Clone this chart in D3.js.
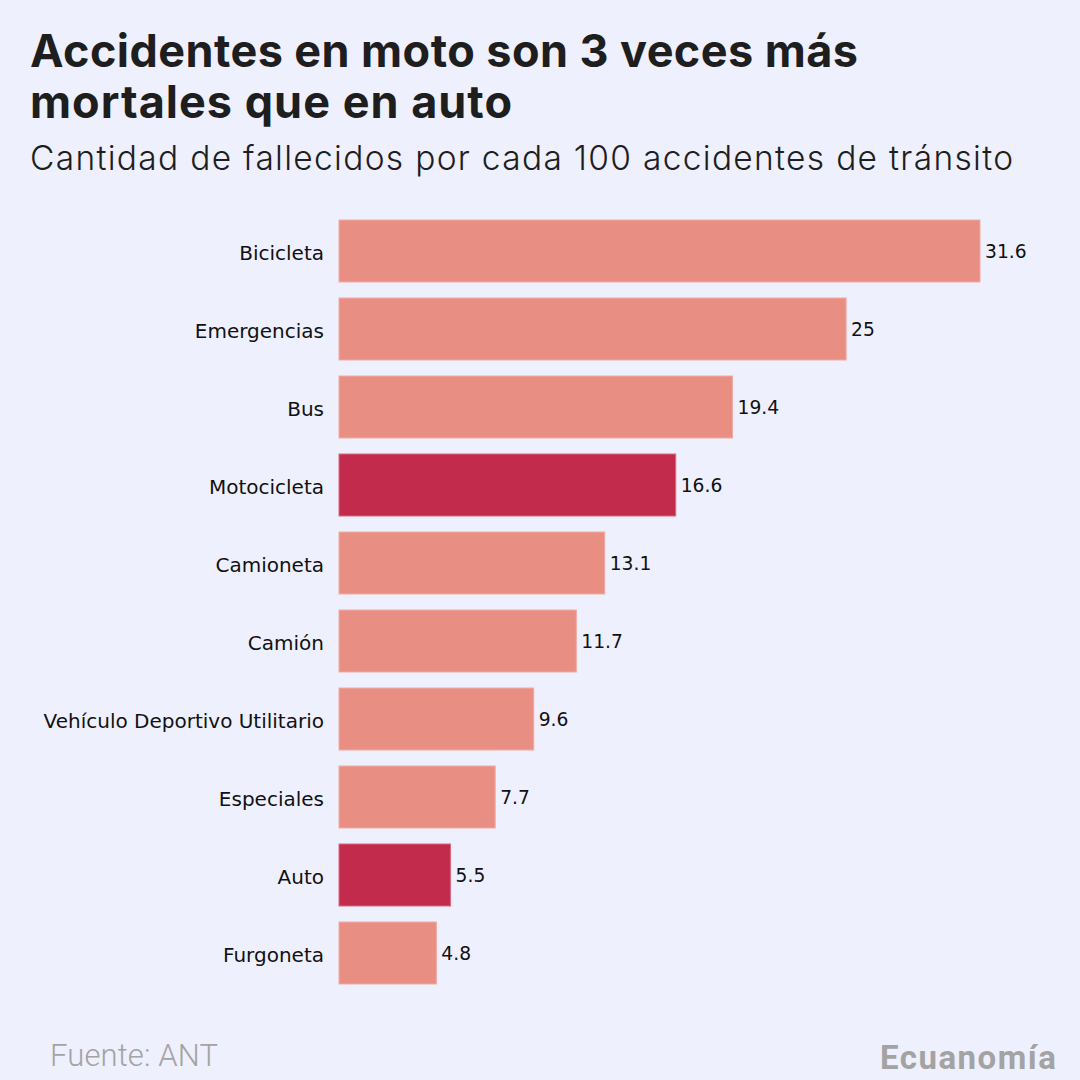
<!DOCTYPE html>
<html>
<head>
<meta charset="utf-8">
<script src="https://cdn.jsdelivr.net/npm/d3@7"></script>
<style>
  html, body { margin: 0; padding: 0; background: #eff0fd; }
  svg { display: block; }
</style>
</head>
<body>
<script>
const categories = ["Bicicleta", "Emergencias", "Bus", "Motocicleta", "Camioneta", "Camión",
  "Vehículo Deportivo Utilitario", "Especiales", "Auto", "Furgoneta"];
const values = [31.6, 25, 19.4, 16.6, 13.1, 11.7, 9.6, 7.7, 5.5, 4.8];
const valueLabels = ["31.6", "25", "19.4", "16.6", "13.1", "11.7", "9.6", "7.7", "5.5", "4.8"];
const highlighted = ["Motocicleta", "Auto"];

const titleLines = ["Accidentes en moto son 3 veces más", "mortales que en auto"];
const subtitle = "Cantidad de fallecidos por cada 100 accidentes de tránsito";
const source = "Fuente: ANT";
const brand = "Ecuanomía";

const W = 1080, H = 1080;
const svg = d3.select("body").append("svg").attr("width", W).attr("height", H);
svg.append("rect").attr("width", W).attr("height", H).attr("fill", "#eff0fd");

// grow font toward target width (capped), then set exact width by spacing
function fit(sel, target, maxSize) {
  sel.each(function(d, i) {
    const t = Array.isArray(target) ? target[i] : target;
    const fs = +this.getAttribute("font-size");
    const w = this.getComputedTextLength();
    const ns = Math.min(maxSize, fs * t / w);
    this.setAttribute("font-size", ns);
    this.setAttribute("textLength", t);
    this.setAttribute("lengthAdjust", "spacing");
  });
}

// Title
svg.selectAll("text.title").data(titleLines).join("text")
  .attr("class", "title")
  .attr("x", 30)
  .attr("y", (d, i) => 67 + i * 51)
  .attr("font-family", "Inter")
  .attr("font-weight", 700)
  .attr("font-size", 43)
  .attr("fill", "#1e1e1e")
  .text(d => d)
  .call(fit, [828, 482], 45);

svg.append("text")
  .attr("x", 30).attr("y", 170)
  .attr("font-family", "Inter")
  .attr("font-weight", 300)
  .attr("font-size", 31)
  .attr("fill", "#1e1e1e")
  .text(subtitle)
  .call(fit, 983, 33.5);

// Chart: step 78, bar height 62, first bar top 220
const x = d3.scaleLinear().domain([0, 31.6]).range([339, 980]);
const yb = d3.scaleBand().domain(categories)
  .range([220, 220 + 10 * 78 - 16])
  .paddingInner(16 / 78)
  .paddingOuter(0);

const g = svg.append("g");

g.selectAll("rect.bar").data(categories).join("rect")
  .attr("class", "bar")
  .attr("x", x(0))
  .attr("y", d => yb(d))
  .attr("width", (d, i) => x(values[i]) - x(0))
  .attr("height", yb.bandwidth())
  .attr("fill", d => highlighted.includes(d) ? "#c22b4b" : "#e88e82")
  .attr("stroke", d => highlighted.includes(d) ? "#d86a80" : "#f1aca3")
  .attr("stroke-width", 1);

// Category axis
const axis = d3.axisLeft(yb).tickSize(0).tickPadding(15);
const ax = svg.append("g").attr("transform", `translate(${x(0)},0)`).call(axis);
ax.select(".domain").remove();
ax.selectAll("text")
  .attr("font-family", "DejaVu Sans")
  .attr("font-size", 20)
  .attr("dy", "0.45em")
  .attr("fill", "#111");

// Value labels
g.selectAll("text.val").data(categories).join("text")
  .attr("class", "val")
  .attr("x", (d, i) => x(values[i]) + 5)
  .attr("y", d => yb(d) + yb.bandwidth() / 2)
  .attr("dy", "0.38em")
  .attr("font-family", "DejaVu Sans")
  .attr("font-size", 18.7)
  .attr("fill", "#111")
  .text((d, i) => valueLabels[i]);

// Footer
svg.append("text")
  .attr("x", 50).attr("y", 1066)
  .attr("font-family", "Roboto")
  .attr("font-weight", 300)
  .attr("font-size", 29)
  .attr("fill", "#a3a3a3")
  .text(source)
  .call(fit, 168, 31);

svg.append("text")
  .attr("x", 880).attr("y", 1069)
  .attr("font-family", "Roboto")
  .attr("font-weight", 700)
  .attr("font-size", 30)
  .attr("fill", "#a3a3a3")
  .text(brand)
  .call(fit, 176, 33);
</script>
</body>
</html>
